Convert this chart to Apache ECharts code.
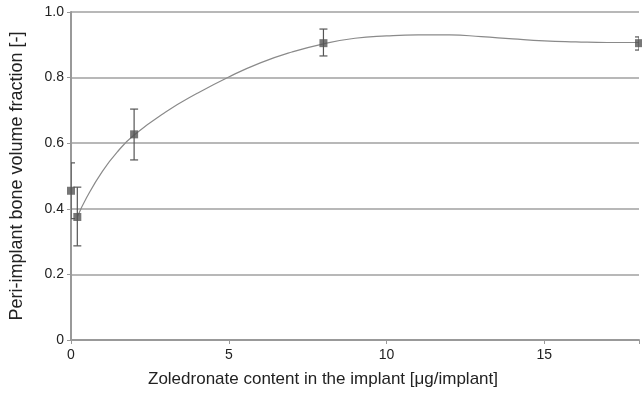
<!DOCTYPE html>
<html>
<head>
<meta charset="utf-8">
<script src="https://cdn.jsdelivr.net/npm/echarts@6/dist/echarts.min.js"></script>
<style>
  html, body { margin: 0; padding: 0; background: #fff; }
  #chart { width: 642px; height: 394px; }
</style>
</head>
<body>
<div id="chart"></div>
<script>
// measured points (zoledronate content, bone fraction) with error bar ends
const doseX = [0, 0.2, 2, 8, 18];
const boneY = [0.455, 0.375, 0.627, 0.905, 0.905];
const errLow = [0.37, 0.287, 0.549, 0.866, 0.884];
const errHigh = [0.54, 0.466, 0.704, 0.948, 0.924];

// fitted curve
const fitX = [0.2, 0.5, 1, 1.5, 2, 3, 4, 5, 6, 7, 8, 9, 10, 11, 12, 13, 14, 15, 16, 17, 18];
const fitY = [0.375, 0.435, 0.515, 0.577, 0.625, 0.695, 0.752, 0.802, 0.845, 0.878, 0.903, 0.92, 0.927, 0.93, 0.93, 0.925, 0.918, 0.912, 0.909, 0.907, 0.907];

const xTicks = [0, 5, 10, 15];

const chart = echarts.init(document.getElementById('chart'));
const font = 'Liberation Sans, Arial, sans-serif';

chart.setOption({
  animation: false,
  grid: { left: 69, right: 0, top: 12, bottom: 54, containLabel: false },
  xAxis: {
    type: 'value', min: 0, max: 18, interval: 5,
    name: 'Zoledronate content in the implant [μg/implant]',
    nameLocation: 'middle', nameGap: 31,
    nameTextStyle: { fontFamily: font, fontSize: 17, color: '#222', padding: [0, 64, 0, 0] },
    axisLine: { lineStyle: { color: '#999', width: 2 } },
    axisTick: { show: true, length: 4, lineStyle: { color: '#999' } },
    axisLabel: {
      fontFamily: font, fontSize: 14, color: '#222', margin: 8,
      formatter: v => xTicks.includes(v) ? String(v) : ''
    },
    splitLine: { show: false }
  },
  yAxis: {
    type: 'value', min: 0, max: 1, interval: 0.2,
    name: 'Peri-implant bone volume fraction [-]',
    nameLocation: 'middle', nameGap: 45,
    nameTextStyle: { fontFamily: font, fontSize: 18, color: '#222' },
    axisLine: { show: true, lineStyle: { color: '#999', width: 2 } },
    axisTick: { show: true, length: 4, lineStyle: { color: '#999' } },
    axisLabel: {
      fontFamily: font, fontSize: 14, color: '#222', margin: 7,
      formatter: v => v === 0 ? '0' : v.toFixed(1)
    },
    splitLine: { lineStyle: { color: '#b8b8b8', width: 2 } }
  },
  series: [
    {
      type: 'line', smooth: true, showSymbol: false,
      data: fitX.map((x, i) => [x, fitY[i]]),
      lineStyle: { color: '#8a8a8a', width: 1.2 },
      z: 2
    },
    {
      type: 'custom',
      data: doseX.map((x, i) => [x, errLow[i], errHigh[i]]),
      renderItem: (params, api) => {
        const lo = api.coord([api.value(0), api.value(1)]);
        const hi = api.coord([api.value(0), api.value(2)]);
        const w = 4;
        const style = { stroke: '#555', lineWidth: 1.2 };
        return {
          type: 'group',
          children: [
            { type: 'line', shape: { x1: lo[0], y1: lo[1], x2: hi[0], y2: hi[1] }, style },
            { type: 'line', shape: { x1: lo[0] - w, y1: lo[1], x2: lo[0] + w, y2: lo[1] }, style },
            { type: 'line', shape: { x1: hi[0] - w, y1: hi[1], x2: hi[0] + w, y2: hi[1] }, style }
          ]
        };
      },
      clip: true,
      z: 3
    },
    {
      type: 'scatter',
      data: doseX.map((x, i) => [x, boneY[i]]),
      symbol: 'rect', symbolSize: 8,
      itemStyle: { color: '#555' },
      clip: true,
      z: 4
    }
  ]
});
</script>
</body>
</html>
